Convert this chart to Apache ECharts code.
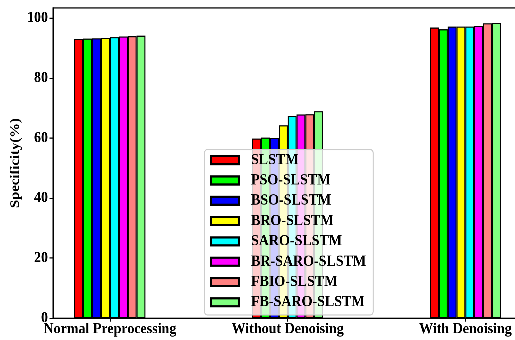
<!DOCTYPE html>
<html>
<head>
<meta charset="utf-8">
<script src="https://cdn.jsdelivr.net/npm/echarts@6/dist/echarts.min.js"></script>
<style>
  html, body { margin: 0; padding: 0; background: #fff; }
  #frame { width: 515px; height: 340px; overflow: hidden; position: relative; }
  #chart { width: 515px; transform-origin: 0 0; }
</style>
</head>
<body>
<div id="frame"><div id="chart"></div></div>
<script>
// Specificity (%) of each model under three preprocessing settings
const categories = ['Normal Preprocessing', 'Without Denoising', 'With Denoising'];
const models = ['SLSTM', 'PSO-SLSTM', 'BSO-SLSTM', 'BRO-SLSTM', 'SARO-SLSTM', 'BR-SARO-SLSTM', 'FBIO-SLSTM', 'FB-SARO-SLSTM'];

const slstm       = [93.1, 59.9, 96.9];
const psoSlstm    = [93.2, 60.2, 96.3];
const bsoSlstm    = [93.3, 60.1, 97.2];
const broSlstm    = [93.4, 64.3, 97.2];
const saroSlstm   = [93.7, 67.4, 97.2];
const brSaroSlstm = [93.9, 67.9, 97.5];
const fbioSlstm   = [94.0, 68.0, 98.3];
const fbSaroSlstm = [94.2, 69.0, 98.5];

const yTicks = [0, 20, 40, 60, 80, 100];
const xTicks = [0, 1, 2];

const seriesValues = [slstm, psoSlstm, bsoSlstm, broSlstm, saroSlstm, brSaroSlstm, fbioSlstm, fbSaroSlstm];
const colors = ['#ff0000', '#00ff00', '#0000ff', '#ffff00', '#00ffff', '#ff00ff', '#ff8080', '#80ff80'];

// each bar takes 0.05 of a group unit, groups centred on 0, 1, 2
const barStep = 0.05;
const font = '"Liberation Serif", "Times New Roman", serif';

// The figure uses slightly tall lettering: draw on a shorter canvas and
// stretch it vertically; v() converts a final vertical size to canvas units.
const K = 1.1;
const FULL_H = 340;
const v = px => px / K;

const el = document.getElementById('chart');
el.style.height = v(FULL_H) + 'px';
el.style.transform = 'scaleY(' + K + ')';

const chart = echarts.init(el, null, { renderer: 'canvas', devicePixelRatio: 3 });

const series = seriesValues.map((vals, s) => ({
  name: models[s],
  type: 'bar',
  barWidth: 8.9,
  barGap: '-100%',
  itemStyle: { color: colors[s], borderColor: '#000', borderWidth: 1 },
  emphasis: { disabled: true },
  data: vals.map((val, i) => [i + (s - (models.length - 1) / 2) * barStep, val])
}));

chart.setOption({
  animation: false,
  backgroundColor: '#fff',
  grid: {
    left: 53, top: v(8), right: -7.3, bottom: v(21.7),
    outerBoundsMode: 'none',
    containLabel: false,
    show: true, borderColor: '#000', borderWidth: 1, backgroundColor: 'transparent'
  },
  xAxis: {
    type: 'value',
    min: -0.32,
    max: 2.32,
    splitLine: { show: false },
    axisLine: { show: true, onZero: false, lineStyle: { color: '#000', width: 1 } },
    axisTick: { show: true, customValues: xTicks, length: v(3.5), lineStyle: { color: '#000' } },
    axisLabel: {
      customValues: xTicks,
      formatter: val => categories[Math.round(val)],
      margin: v(3.5),
      color: '#000',
      fontFamily: font,
      fontWeight: 'bold',
      fontSize: 14
    }
  },
  yAxis: {
    type: 'value',
    min: 0,
    max: 103.4,
    name: 'Specificity(%)',
    nameLocation: 'middle',
    nameGap: 31,
    nameMoveOverlap: false,
    nameTextStyle: { color: '#000', fontFamily: font, fontWeight: 'bold', fontSize: 13.4 },
    splitLine: { show: false },
    axisLine: { show: true, onZero: false, lineStyle: { color: '#000', width: 1 } },
    axisTick: { show: true, customValues: yTicks, length: 3.5, lineStyle: { color: '#000' } },
    axisLabel: {
      customValues: yTicks,
      margin: 5,
      color: '#000',
      fontFamily: font,
      fontWeight: 'bold',
      fontSize: 14
    }
  },
  legend: {
    orient: 'vertical',
    left: 204.5,
    top: v(149.5),
    padding: [v(3), 7, v(5), 5.5],
    itemGap: v(4.9),
    itemWidth: 28,
    itemHeight: v(8),
    icon: 'rect',
    borderColor: '#cccccc',
    borderWidth: 1,
    borderRadius: 3,
    backgroundColor: 'rgba(255,255,255,0.8)',
    selectedMode: false,
    textStyle: {
      color: '#000',
      fontFamily: font,
      fontWeight: 'bold',
      fontSize: 14,
      lineHeight: v(15),
      padding: [0, 0, 0, 7]
    },
    data: models
  },
  series: series
});
</script>
</body>
</html>
